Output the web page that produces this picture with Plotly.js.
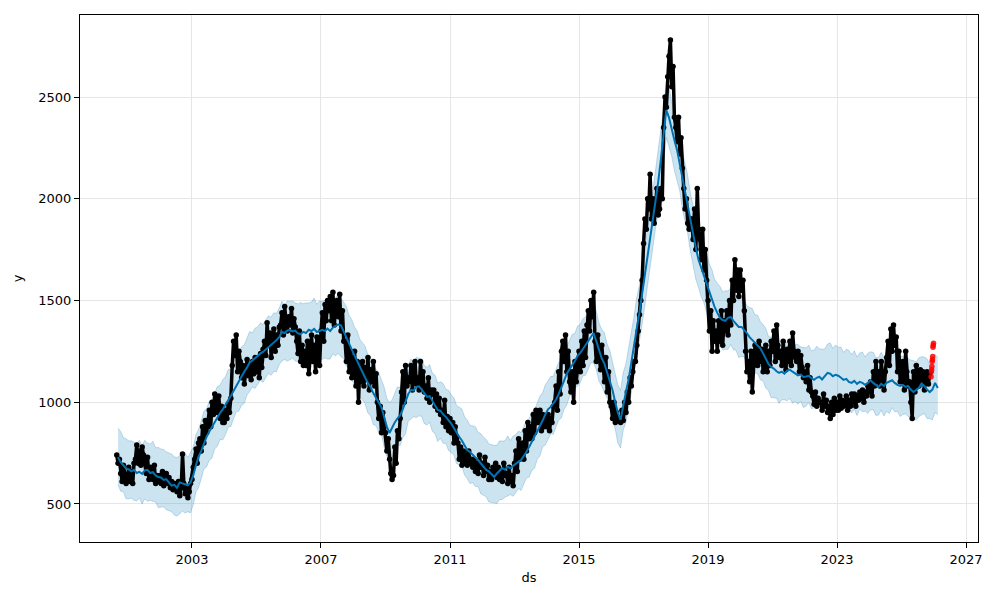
<!DOCTYPE html>
<html>
<head>
<meta charset="utf-8">
<script src="https://cdn.plot.ly/plotly-3.0.1.min.js"></script>
<style>html,body{margin:0;padding:0;background:#fff;}#chart{width:1000px;height:600px;}</style>
</head>
<body>
<div id="chart"></div>
<script>
// ---- Observed series "y": semi-monthly readings (1st and 16th), starting 2000-09-01 ----
const obsStart = [2000, 9];
const obsY = [
  740, 700,
  720, 650, 610, 690, 640, 600,
  640, 680, 610, 660, 600, 700,
  720, 790, 700, 760, 690, 780,
  740, 700, 650, 730, 620, 680,
  660, 620, 690, 600, 640, 610,
  640, 600, 660, 590, 620, 650,
  600, 630, 580, 610, 570, 600,
  590, 560, 610, 540, 580, 745,
  600, 550, 580, 530, 560, 600,
  620, 680, 720, 770, 700, 800,
  820, 760, 880, 800, 910, 850,
  900, 960, 880, 1000, 940, 1040,
  1010, 950, 1030, 920, 980, 900,
  900, 960, 920, 990, 950, 1020,
  1180, 1300, 1230, 1330, 1150, 1250,
  1200, 1120, 1180, 1090, 1150, 1210,
  1130, 1180, 1110, 1200, 1140, 1220,
  1150, 1220, 1120, 1240, 1170, 1260,
  1300, 1230, 1390, 1280, 1340, 1220,
  1300, 1360, 1250, 1330, 1280, 1370,
  1380, 1440, 1330, 1470, 1400, 1350,
  1420, 1380, 1460, 1340, 1410, 1370,
  1300, 1240, 1350, 1200, 1280, 1180,
  1250, 1180, 1300, 1140, 1220, 1330,
  1200, 1280, 1150, 1320, 1240, 1180,
  1350, 1440, 1300, 1480, 1400, 1500,
  1450, 1520, 1400, 1540, 1380, 1480,
  1500, 1420, 1530, 1350, 1450, 1300,
  1300, 1200, 1330, 1150, 1250, 1120,
  1150, 1250, 1080, 1200, 1000, 1180,
  1100, 1200, 1080, 1170, 1120, 1220,
  1060, 1160, 1100, 1200, 1080, 1140,
  1000, 920, 980, 850, 950, 880,
  850, 760, 820, 720, 650, 620,
  640, 780, 700, 860, 820, 920,
  1050, 1150, 1000, 1180, 1080, 1120,
  1100, 1180, 1060, 1160, 1200, 1090,
  1120, 1060, 1200, 1080, 1150, 1050,
  1080, 1020, 1120, 1000, 1060, 1040,
  1060, 980, 1040, 960, 1020, 940,
  960, 900, 1010, 880, 930, 860,
  920, 850, 900, 800, 880, 820,
  800, 720, 780, 690, 760, 700,
  740, 690, 760, 700, 720, 680,
  720, 660, 700, 650, 740, 680,
  700, 640, 730, 660, 690, 620,
  660, 620, 680, 640, 700, 630,
  680, 620, 660, 610, 700, 640,
  650, 600, 680, 610, 640, 590,
  700, 760, 660, 820, 720, 780,
  800, 720, 860, 760, 900, 820,
  880, 820, 940, 850, 960, 900,
  900, 960, 860, 940, 880, 920,
  880, 940, 860, 920, 900, 980,
  1000, 1080, 960, 1150, 1040, 1250,
  1300, 1200, 1330, 1150, 1250, 1100,
  1050, 1150, 1000, 1200, 1100, 1180,
  1250, 1150, 1300, 1180, 1350, 1220,
  1380, 1450, 1350, 1500, 1420, 1540,
  1300, 1200, 1330, 1250, 1160, 1280,
  1200, 1100, 1220, 1050, 1150, 1000,
  980, 920, 1000, 900, 950, 910,
  920, 900, 960, 910, 1000, 950,
  1050, 1000, 1120, 1080, 1150, 1200,
  1200, 1280, 1350, 1430, 1500, 1600,
  1780, 1900, 1850, 2000, 1950, 2120,
  1900, 2000, 1880, 1950, 2050, 1920,
  1950, 2050, 2000, 2350, 2500, 2450,
  2600, 2700, 2780, 2550, 2650, 2400,
  2350, 2280, 2400, 2220, 2300, 2150,
  2050, 1950, 2000, 1880, 1850, 1900,
  1900, 1800, 1950, 1750, 2050, 1850,
  1800, 1700, 1850, 1650, 1750, 1600,
  1500, 1350, 1450, 1250, 1400, 1300,
  1350, 1250, 1400, 1300, 1450, 1280,
  1400, 1350, 1450, 1330, 1500, 1380,
  1600, 1500, 1700, 1550, 1650, 1520,
  1650, 1550, 1600, 1450, 1250, 1150,
  1200, 1100, 1250, 1050, 1180, 1280,
  1250, 1180, 1300, 1200, 1260, 1150,
  1200, 1280, 1150, 1250, 1180, 1300,
  1250, 1350, 1200, 1380, 1280, 1220,
  1250, 1180, 1300, 1200, 1160, 1260,
  1200, 1300, 1180, 1340, 1250, 1220,
  1200, 1250, 1150, 1230, 1170, 1120,
  1150, 1100, 1180, 1060, 1120, 1050,
  1030, 990, 1050, 980, 1020, 1000,
  1000, 960, 1040, 980, 1010, 950,
  980, 920, 1000, 940, 1020, 960,
  1000, 960, 1030, 970, 1010, 980,
  990, 1030, 960, 1010, 980, 1040,
  1000, 1040, 980, 1030, 1010, 1050,
  1020, 1060, 1000, 1050, 1030, 1080,
  1050, 1100, 1030, 1150, 1080, 1200,
  1100, 1150, 1080, 1200, 1120, 1060,
  1150, 1220, 1300, 1180, 1360, 1250,
  1380, 1280, 1320, 1150, 1250, 1100,
  1100, 1200, 1060, 1250, 1150, 1080,
  1100, 1000, 920, 1150, 1050, 1180,
  1120, 1080, 1160, 1100, 1150, 1060,
  1120, 1150, 1090, 1140
];

// ---- Forecast (monthly, 15th of each month), starting 2000-09 ----
const fcStart = [2000, 9];
const yhat = [
  730, 705, 690, 675,
  670, 660, 668, 652, 658, 648, 665, 668, 652, 656, 640, 632,
  630, 618, 622, 604, 590, 594, 580, 606, 600, 597, 592, 606,
  640, 690, 730, 760, 800, 830, 855, 880, 905, 925, 947, 965,
  985, 1010, 1030, 1055, 1080, 1105, 1124, 1150, 1170, 1195, 1205, 1218,
  1230, 1240, 1247, 1258, 1270, 1280, 1291, 1305, 1320, 1345, 1340, 1352,
  1356, 1348, 1352, 1338, 1335, 1346, 1340, 1356, 1350, 1360, 1345, 1352,
  1356, 1350, 1362, 1350, 1366, 1375, 1382, 1378, 1350, 1320, 1290, 1260,
  1230, 1200, 1175, 1150, 1120, 1095, 1075, 1045, 1020, 995, 975, 930,
  880, 849, 875, 900, 920, 935, 965, 1000, 1040, 1060, 1058, 1075,
  1078, 1062, 1045, 1026, 1030, 1005, 985, 962, 958, 940, 928, 913,
  895, 872, 849, 830, 812, 790, 765, 755, 740, 728, 716, 700,
  688, 667, 660, 645, 633, 650, 662, 677, 668, 682, 676, 688,
  700, 708, 716, 735, 755, 780, 805, 830, 855, 878, 910, 940,
  965, 977, 992, 1012, 1040, 1070, 1105, 1140, 1165, 1182, 1202, 1228,
  1242, 1262, 1282, 1300, 1322, 1340, 1300, 1258, 1215, 1190, 1150, 1110,
  1060, 1000, 950, 913, 990, 1050, 1110, 1200, 1280, 1360, 1440, 1530,
  1620, 1710, 1800, 1890, 1980, 2080, 2190, 2310, 2436, 2400, 2340, 2290,
  2240, 2170, 2100, 2030, 1960, 1890, 1820, 1760, 1700, 1660, 1620, 1590,
  1540, 1500, 1470, 1440, 1415, 1404, 1400, 1415, 1419, 1400, 1385, 1370,
  1370, 1355, 1340, 1320, 1306, 1292, 1280, 1265, 1240, 1212, 1188, 1173,
  1165, 1152, 1144, 1150, 1140, 1155, 1160, 1150, 1140, 1132, 1136, 1124,
  1126, 1130, 1118, 1110, 1120, 1125, 1112, 1130, 1144, 1140, 1128, 1135,
  1130, 1120, 1110, 1115, 1100, 1095, 1105, 1090, 1100, 1095, 1086, 1095,
  1108, 1095, 1085, 1075, 1090, 1080, 1095, 1100, 1108, 1095, 1085, 1080,
  1085, 1075, 1080, 1062, 1050, 1060, 1070, 1092, 1080, 1062, 1050, 1062,
  1095, 1070
];
const yhatUpper = [
  872, 857, 826, 821,
  810, 810, 803, 797, 813, 786, 813, 800, 794, 808, 776, 778,
  770, 768, 757, 749, 745, 732, 728, 738, 742, 749, 728, 752,
  780, 840, 865, 905, 955, 968, 1003, 1012, 1047, 1077, 1083, 1111,
  1125, 1160, 1165, 1200, 1235, 1243, 1272, 1282, 1312, 1347, 1341, 1364,
  1370, 1390, 1382, 1403, 1425, 1418, 1439, 1437, 1462, 1497, 1476, 1498,
  1496, 1498, 1487, 1483, 1490, 1484, 1488, 1488, 1492, 1512, 1481, 1498,
  1496, 1500, 1497, 1495, 1521, 1513, 1530, 1510, 1492, 1472, 1426, 1406,
  1370, 1350, 1310, 1295, 1275, 1233, 1223, 1177, 1162, 1147, 1111, 1076,
  1020, 999, 1010, 1045, 1075, 1073, 1113, 1132, 1182, 1212, 1194, 1221,
  1218, 1212, 1180, 1171, 1185, 1143, 1133, 1094, 1100, 1092, 1064, 1059,
  1035, 1022, 984, 975, 967, 928, 913, 887, 882, 880, 852, 846,
  828, 817, 795, 790, 788, 788, 810, 809, 810, 834, 812, 834,
  840, 858, 851, 880, 910, 918, 953, 962, 997, 1030, 1046, 1086,
  1105, 1127, 1127, 1157, 1195, 1208, 1253, 1272, 1307, 1334, 1338, 1374,
  1382, 1412, 1417, 1445, 1477, 1478, 1448, 1390, 1357, 1342, 1286, 1256,
  1200, 1150, 1085, 1058, 1145, 1188, 1258, 1332, 1422, 1512, 1576, 1676,
  1760, 1860, 1935, 2035, 2135, 2218, 2338, 2442, 2578, 2552, 2476, 2436,
  2380, 2320, 2235, 2175, 2115, 2028, 1968, 1892, 1842, 1812, 1756, 1736,
  1680, 1650, 1605, 1585, 1570, 1542, 1548, 1547, 1561, 1552, 1521, 1516,
  1510, 1505, 1475, 1465, 1461, 1430, 1428, 1397, 1382, 1364, 1324, 1319,
  1305, 1302, 1279, 1295, 1295, 1293, 1308, 1282, 1282, 1284, 1272, 1270,
  1266, 1280, 1253, 1255, 1275, 1263, 1260, 1262, 1286, 1292, 1264, 1281,
  1270, 1270, 1245, 1260, 1255, 1233, 1253, 1222, 1242, 1247, 1222, 1241,
  1248, 1245, 1220, 1220, 1245, 1218, 1243, 1232, 1250, 1247, 1221, 1226,
  1225, 1225, 1215, 1207, 1205, 1198, 1218, 1224, 1222, 1214, 1186, 1208,
  1235, 1220
];
const yhatLower = [
  595, 563, 560, 525,
  525, 528, 518, 514, 530, 500, 525, 513, 517, 514, 510, 482,
  485, 486, 472, 466, 462, 446, 440, 451, 465, 455, 462, 456,
  495, 558, 580, 622, 672, 682, 715, 725, 770, 783, 817, 815,
  840, 878, 880, 917, 952, 957, 984, 995, 1035, 1053, 1075, 1068,
  1085, 1108, 1097, 1120, 1142, 1132, 1151, 1150, 1185, 1203, 1210, 1202,
  1211, 1216, 1202, 1200, 1207, 1198, 1200, 1201, 1215, 1218, 1215, 1202,
  1211, 1218, 1212, 1212, 1238, 1227, 1242, 1223, 1215, 1178, 1160, 1110,
  1085, 1068, 1025, 1012, 992, 947, 935, 890, 885, 853, 845, 780,
  735, 717, 725, 762, 792, 787, 825, 845, 905, 918, 928, 925,
  933, 930, 895, 888, 902, 857, 845, 807, 823, 798, 798, 763,
  750, 740, 699, 692, 684, 642, 625, 600, 605, 586, 586, 550,
  543, 535, 510, 507, 505, 502, 522, 522, 533, 540, 546, 538,
  555, 576, 566, 597, 627, 632, 665, 675, 720, 736, 780, 790,
  820, 845, 842, 874, 912, 922, 965, 985, 1030, 1040, 1072, 1078,
  1097, 1130, 1132, 1162, 1194, 1192, 1160, 1103, 1080, 1048, 1020, 960,
  915, 868, 800, 775, 862, 902, 970, 1045, 1145, 1218, 1310, 1380,
  1475, 1578, 1650, 1752, 1852, 1932, 2050, 2155, 2301, 2258, 2210, 2140,
  2095, 2038, 1950, 1892, 1832, 1742, 1680, 1605, 1565, 1518, 1490, 1440,
  1395, 1368, 1320, 1302, 1287, 1256, 1260, 1260, 1284, 1258, 1255, 1220,
  1225, 1223, 1190, 1182, 1178, 1144, 1140, 1110, 1105, 1070, 1058, 1023,
  1020, 1020, 994, 1012, 1012, 1007, 1020, 995, 1005, 990, 1006, 974,
  981, 998, 968, 972, 992, 977, 972, 975, 1009, 998, 998, 985,
  985, 988, 960, 977, 972, 947, 965, 935, 965, 953, 956, 945,
  963, 963, 935, 937, 962, 932, 955, 945, 973, 953, 955, 930,
  940, 943, 930, 924, 922, 912, 930, 937, 945, 920, 920, 912,
  950, 938
];

// ---- Recent actuals highlighted in red (Dec 2025) ----
const redDates = ['2025-12-01','2025-12-04','2025-12-07','2025-12-10','2025-12-13','2025-12-16','2025-12-19','2025-12-22','2025-12-25','2025-12-28'];
const redY = [1125, 1150, 1160, 1175, 1200, 1210, 1225, 1270, 1280, 1290];

// ---- Axis ticks ----
const xTickYears = [2003, 2007, 2011, 2015, 2019, 2023, 2027];
const yTickVals = [500, 1000, 1500, 2000, 2500];

function pad(n){ return (n < 10 ? '0' : '') + n; }
function monthlyDates(start, n, day){
  const out = []; let y = start[0], m = start[1];
  for (let i = 0; i < n; i++){
    out.push(y + '-' + pad(m) + '-' + pad(day));
    m++; if (m > 12){ m = 1; y++; }
  }
  return out;
}
function semiMonthlyDates(start, n){
  const out = []; let y = start[0], m = start[1], half = 0;
  for (let i = 0; i < n; i++){
    out.push(y + '-' + pad(m) + '-' + (half === 0 ? '01' : '16'));
    half++; if (half > 1){ half = 0; m++; if (m > 12){ m = 1; y++; } }
  }
  return out;
}

const obsX = semiMonthlyDates(obsStart, obsY.length);
const fcX = monthlyDates(fcStart, yhat.length, 15);
const blue = '#0072B2';

const traces = [
  { x: fcX, y: yhatLower, type: 'scatter', mode: 'lines',
    line: { color: 'rgba(0,114,178,0.22)', width: 1 }, hoverinfo: 'skip' },
  { x: fcX, y: yhatUpper, type: 'scatter', mode: 'lines', fill: 'tonexty',
    fillcolor: 'rgba(0,114,178,0.2)',
    line: { color: 'rgba(0,114,178,0.22)', width: 1 }, hoverinfo: 'skip' },
  { x: obsX, y: obsY, type: 'scatter', mode: 'lines+markers',
    line: { color: 'black', width: 3.5 },
    marker: { color: 'black', size: 5.5 }, hoverinfo: 'skip' },
  { x: fcX, y: yhat, type: 'scatter', mode: 'lines',
    line: { color: blue, width: 2 }, hoverinfo: 'skip' },
  { x: redDates, y: redY, type: 'scatter', mode: 'markers',
    marker: { color: 'rgba(255,0,0,0.85)', size: 5.5 }, hoverinfo: 'skip' }
];

const layout = {
  width: 1000, height: 600,
  margin: { l: 80, r: 22, t: 15, b: 58, pad: 0 },
  paper_bgcolor: 'white', plot_bgcolor: 'white',
  showlegend: false,
  font: { family: 'DejaVu Sans, sans-serif', size: 13, color: 'black' },
  xaxis: {
    type: 'date',
    range: ['1999-07-13', '2027-05-16'],
    tickvals: xTickYears.map(y => y + '-01-01'),
    ticktext: xTickYears.map(String),
    ticks: 'outside', ticklen: 5, tickwidth: 1, tickcolor: 'black',
    showline: true, linecolor: 'black', linewidth: 1, mirror: true,
    showgrid: true, gridcolor: '#e6e6e6', gridwidth: 1, zeroline: false,
    automargin: false,
    title: { text: 'ds', font: { size: 13 }, standoff: 7 }
  },
  yaxis: {
    range: [313, 2903],
    tickvals: yTickVals,
    ticktext: yTickVals.map(String),
    ticks: 'outside', ticklen: 5, tickwidth: 1, tickcolor: 'black',
    showline: true, linecolor: 'black', linewidth: 1, mirror: true,
    showgrid: true, gridcolor: '#e6e6e6', gridwidth: 1, zeroline: false,
    automargin: false,
    title: { text: 'y', font: { size: 13 }, standoff: 12 }
  }
};

Plotly.newPlot('chart', traces, layout, { staticPlot: true, displayModeBar: false });
</script>
</body>
</html>
